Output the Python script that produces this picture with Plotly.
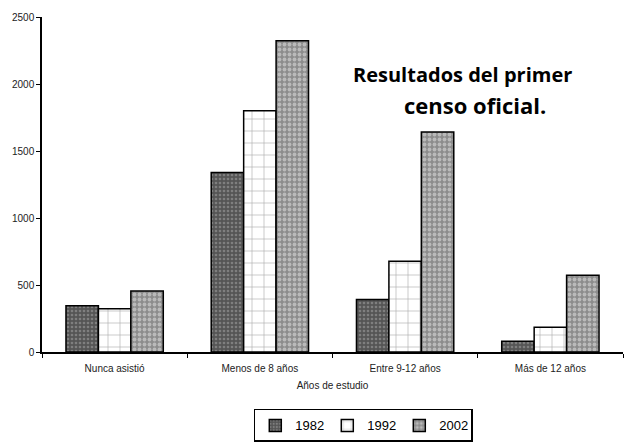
import plotly.graph_objects as go

# Categorías (años de estudio) y series por censo
categorias = ["Nunca asistió", "Menos de 8 años", "Entre 9-12 años", "Más de 12 años"]
anios = ["1982", "1992", "2002"]
v1982 = [345, 1340, 392, 80]
v1992 = [322, 1800, 678, 185]
v2002 = [455, 2323, 1642, 572]
y_ticks = [0, 500, 1000, 1500, 2000, 2500]

series = [v1982, v1992, v2002]
patrones = [
    dict(shape=".", bgcolor="#555555", fgcolor="#aaaaaa", size=4, solidity=0.35),
    dict(shape="+", bgcolor="white", fgcolor="#555555", size=12, solidity=0.1),
    dict(shape=".", bgcolor="#8c8c8c", fgcolor="#e8e8e8", size=5, solidity=0.45),
]

fig = go.Figure()
for nombre, valores, patron in zip(anios, series, patrones):
    fig.add_trace(go.Bar(
        x=categorias,
        y=valores,
        name=nombre,
        marker=dict(color=patron["bgcolor"], pattern=patron,
                    line=dict(color="black", width=1.5)),
    ))

# the page body adds 8px offset, margins compensate for it
fig.update_layout(
    width=640, height=447,
    barmode="group",
    bargap=0.33,
    bargroupgap=0,
    plot_bgcolor="white",
    paper_bgcolor="white",
    margin=dict(l=34, r=25, t=9, b=103, autoexpand=False),
    font=dict(family="Liberation Sans, Arial", color="#222222"),
    legend=dict(
        orientation="h",
        x=0.553, xanchor="center",
        y=-0.17, yanchor="top",
        bordercolor="black", borderwidth=1.5,
        font=dict(size=13, family="Liberation Sans", color="black"),
        itemwidth=30,
        entrywidth=27, entrywidthmode="pixels",
    ),
    xaxis=dict(
        showline=True, linecolor="black", linewidth=1.5,
        ticks="outside", tickson="boundaries", ticklen=4, tickcolor="black",
        tickfont=dict(size=10),
        ticklabelstandoff=6,
        title=dict(text="Años de estudio", font=dict(size=10), standoff=9),
    ),
    yaxis=dict(
        range=[0, 2500],
        tickvals=y_ticks,
        showline=True, linecolor="black", linewidth=1.5,
        ticks="outside", ticklen=4, tickcolor="black",
        showgrid=False, zeroline=False,
        tickfont=dict(size=10),
    ),
    annotations=[
        dict(text="<b>Resultados del primer</b>",
             xref="paper", yref="paper", x=0.723, y=0.827,
             xanchor="center", yanchor="middle", showarrow=False,
             font=dict(size=20, family="Open Sans", color="black")),
        dict(text="<b>censo oficial.</b>",
             xref="paper", yref="paper", x=0.745, y=0.737,
             xanchor="center", yanchor="middle", showarrow=False,
             font=dict(size=22, family="Open Sans", color="black")),
    ],
)

fig.write_html("out.html")
